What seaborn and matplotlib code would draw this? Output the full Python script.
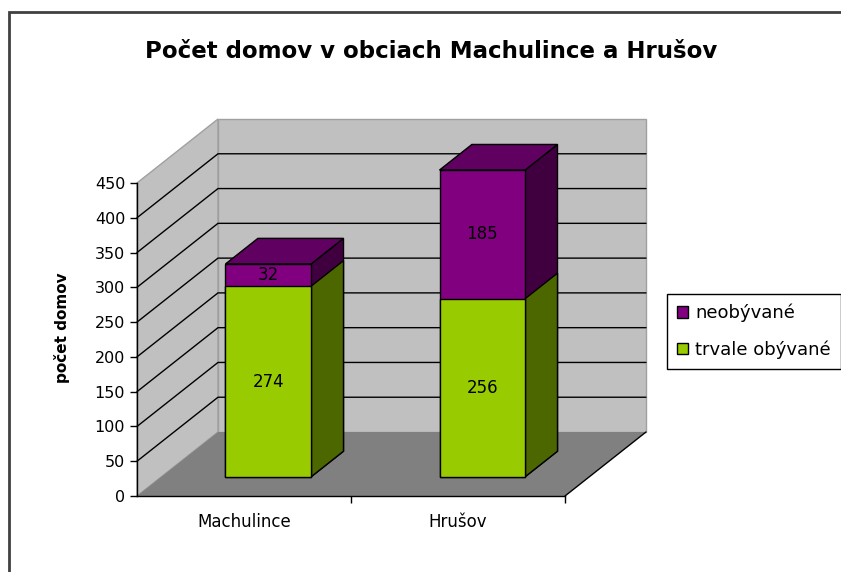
import numpy as np
import pandas as pd
import matplotlib
matplotlib.use('Agg')
import matplotlib.pyplot as plt
import matplotlib.transforms as mtransforms
from matplotlib.patches import Polygon, Patch, Rectangle
import seaborn as sns

# data
obce = ['Machulince', 'Hrušov']
trvale_obyvane = [274, 256]
neobyvane = [32, 185]
serie = ['neobývané', 'trvale obývané']
y_ticks = [0, 50, 100, 150, 200, 250, 300, 350, 400, 450]

spolu = [a + b for a, b in zip(trvale_obyvane, neobyvane)]
df = pd.DataFrame({'obec': obce, 'trvale': trvale_obyvane, 'neob': neobyvane, 'spolu': spolu})

sns.set_style('ticks')
plt.rcParams['font.family'] = ['DejaVu Sans']
plt.rcParams['text.color'] = 'black'
plt.rcParams['xtick.labelcolor'] = 'black'
plt.rcParams['ytick.labelcolor'] = 'black'

ZELENA, ZELENA_BOK = '#99cc00', '#4c6600'
FIALOVA, FIALOVA_VRCH, FIALOVA_BOK = '#800080', '#600060', '#400040'
STENA, PODLAHA = '#c0c0c0', '#808080'

# hlbka 3D (posun zadnej steny v datovych jednotkach)
DX, DY = 0.3785, 92.0
PRED, ZAD = 0.3, 0.7   # hlbka prednej a zadnej steny stlpcov
YMAX = y_ticks[-1]

fig = plt.figure(figsize=(8.41, 5.72), dpi=100)
ax = fig.add_axes([137 / 841, 76 / 572, 509 / 841, 377 / 572])
ax.set_facecolor('none')

# predne steny stlpcov cez seaborn
sns.barplot(data=df, x='obec', y='spolu', color=FIALOVA, saturation=1, width=0.4,
            edgecolor='black', linewidth=1, ax=ax, zorder=3)
n_fial = len(ax.patches)
sns.barplot(data=df, x='obec', y='trvale', color=ZELENA, saturation=1, width=0.4,
            edgecolor='black', linewidth=1, ax=ax, zorder=3)
fial = list(ax.patches[:n_fial])
zel = list(ax.patches[n_fial:])

posun = mtransforms.Affine2D().translate(DX * PRED, DY * PRED) + ax.transData
for p in fial + zel:
    p.set_transform(posun)

x0, x1 = -0.5, len(obce) - 0.5
ax.set_xlim(x0, x1 + DX)
ax.set_ylim(0, YMAX + DY)

# steny a podlaha
ax.add_patch(Polygon([(x0, 0), (x0, YMAX), (x0 + DX, YMAX + DY), (x0 + DX, DY)],
                     facecolor=STENA, edgecolor='#a0a0a0', lw=1, zorder=0, clip_on=False))
ax.add_patch(Polygon([(x0 + DX, DY), (x1 + DX, DY), (x1 + DX, YMAX + DY), (x0 + DX, YMAX + DY)],
                     facecolor=STENA, edgecolor='#a0a0a0', lw=1, zorder=0, clip_on=False))
ax.add_patch(Polygon([(x0, 0), (x1, 0), (x1 + DX, DY), (x0 + DX, DY)],
                     facecolor=PODLAHA, edgecolor='none', zorder=0.5, clip_on=False))
ax.plot([x1, x1 + DX], [0, DY], color='black', lw=1, zorder=1, clip_on=False)

# mriezka
for v in y_ticks[1:-1]:
    ax.plot([x0, x0 + DX, x1 + DX], [v, v + DY, v + DY], color='black', lw=1, zorder=1.5,
            clip_on=False)

# bocne a horne steny stlpcov
def bok(p, farba):
    xa = p.get_x() + p.get_width() + DX * PRED
    yb = p.get_y() + DY * PRED
    yt = p.get_y() + p.get_height() + DY * PRED
    d, e = DX * (ZAD - PRED), DY * (ZAD - PRED)
    ax.add_patch(Polygon([(xa, yb), (xa, yt), (xa + d, yt + e), (xa + d, yb + e)],
                         facecolor=farba, edgecolor='black', lw=1, zorder=2.5))

def vrch(p, farba):
    xl = p.get_x() + DX * PRED
    xr = xl + p.get_width()
    yt = p.get_y() + p.get_height() + DY * PRED
    d, e = DX * (ZAD - PRED), DY * (ZAD - PRED)
    ax.add_patch(Polygon([(xl, yt), (xr, yt), (xr + d, yt + e), (xl + d, yt + e)],
                         facecolor=farba, edgecolor='black', lw=1, zorder=2.5))

for p in fial:
    bok(p, FIALOVA_BOK)
    vrch(p, FIALOVA_VRCH)
for p in zel:
    bok(p, ZELENA_BOK)

# popisky hodnot
for pf, pz, t, n in zip(fial, zel, trvale_obyvane, neobyvane):
    xc = pz.get_x() + pz.get_width() / 2 + DX * PRED
    ax.text(xc, t / 2 + DY * PRED, str(t), ha='center', va='center', fontsize=12, zorder=4)
    ax.text(xc, t + n / 2 + DY * PRED, str(n), ha='center', va='center', fontsize=12, zorder=4)

# osi
sns.despine(ax=ax)
ax.spines['left'].set_bounds(0, YMAX)
ax.spines['bottom'].set_bounds(x0, x1)
for s in ('left', 'bottom'):
    ax.spines[s].set_color('black')
    ax.spines[s].set_linewidth(1)
    ax.spines[s].set_zorder(2)
ax.set_yticks(y_ticks)
ax.tick_params(axis='y', direction='out', length=5, width=1, pad=3.5, labelsize=11.5, color='black')
ax.set_xticks(range(len(obce)), obce)
ax.set_xticks([i + 0.5 for i in range(len(obce))], minor=True)
ax.tick_params(axis='x', which='major', length=0, pad=12, labelsize=12)
ax.tick_params(axis='x', which='minor', direction='out', length=5, width=1, color='black')
ax.set_xlabel('')
ax.set_ylabel('')

fig.text(62 / 841, 1 - 328 / 572, 'počet domov', rotation=90, ha='center', va='center',
         fontsize=11, fontweight='bold')
fig.text(431 / 841, 1 - 52 / 572, 'Počet domov v obciach Machulince a Hrušov',
         ha='center', va='center', fontsize=16.5, fontweight='bold')

handles = [Patch(facecolor=FIALOVA, edgecolor='black', label=serie[0]),
           Patch(facecolor=ZELENA, edgecolor='black', label=serie[1])]
leg = fig.legend(handles=handles, loc='upper left', bbox_to_anchor=(667 / 841, 1 - 294 / 572),
                 frameon=True, fancybox=False, framealpha=1, edgecolor='black', fontsize=13,
                 handlelength=0.6, handleheight=0.6, handletextpad=0.4, borderpad=0.55,
                 labelspacing=1.0, borderaxespad=0)
leg.get_frame().set_linewidth(1)

# ramik grafu
fig.patches.append(Rectangle((9 / 841, -0.1), 1.2, 1 - 12 / 572 + 0.1, transform=fig.transFigure,
                             fill=False, edgecolor='#404040', lw=2))

fig.savefig('out.png', dpi=100, facecolor='white')
